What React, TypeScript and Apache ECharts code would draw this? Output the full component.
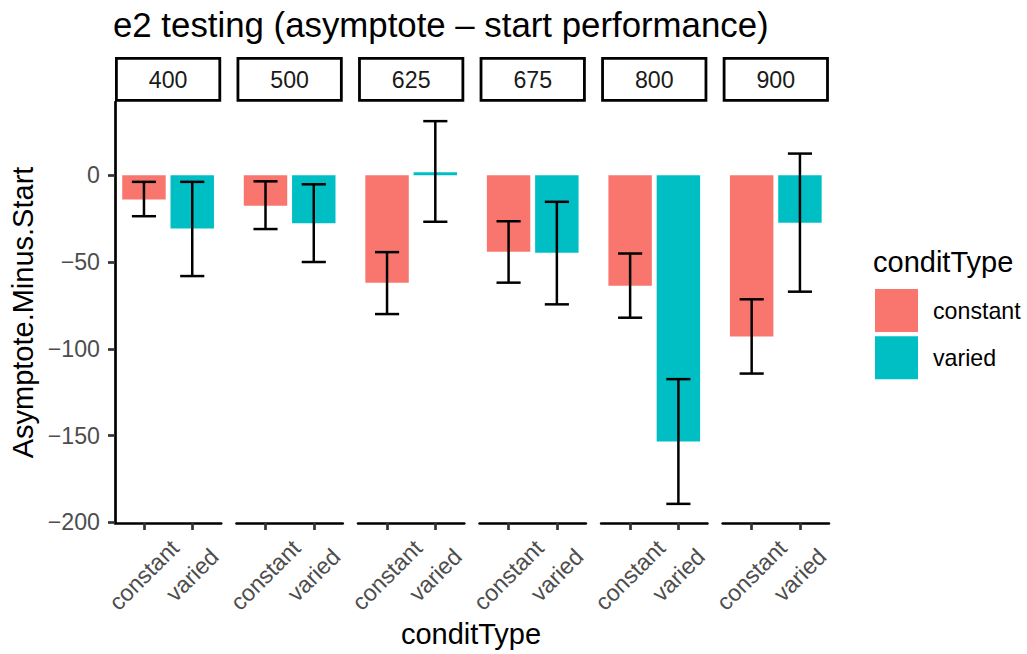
import React, { useEffect, useRef } from "react";
import * as echarts from "echarts";

const conditions = ["400", "500", "625", "675", "800", "900"];
const groups = ["constant", "varied"];
const constantMean = [-14.0, -17.5, -61.9, -44.1, -63.7, -93.0];
const variedMean = [-30.7, -27.6, 1.7, -44.7, -153.4, -27.4];
const constantLo = [-23.6, -31.0, -80.0, -61.9, -82.1, -114.3];
const constantHi = [-3.8, -3.5, -44.3, -26.5, -45.1, -71.5];
const variedLo = [-58.1, -50.0, -26.8, -74.4, -189.4, -67.1];
const variedHi = [-3.8, -5.2, 31.2, -15.3, -117.5, 12.5];
const yTicks = [-200, -150, -100, -50, 0];

const COLORS = ["#F8766D", "#00BFC4"];
const FONT = "'Liberation Sans', Arial, Helvetica, sans-serif";
const SMALL = 23.2;
const MED = 29;
const BIG = 34.8;

export default function App() {
  const ref = useRef<HTMLDivElement>(null);
  useEffect(() => {
    if (!ref.current) return;
    const chart = echarts.init(ref.current, null, { renderer: "svg" });

    const all = [
      ...constantMean, ...variedMean, ...constantLo, ...constantHi, ...variedLo, ...variedHi, 0,
    ];
    const dMin = Math.min(...all);
    const dMax = Math.max(...all);
    const span = dMax - dMin;
    const yMin = dMin - 0.05 * span;
    const yMax = dMax + 0.05 * span;

    const panelLeft = 115;
    const panelStep = 121.54;
    const panelW = 106.2;
    const panelTop = 102;
    const panelH = 421;

    const grids: any[] = [];
    const xAxes: any[] = [];
    const yAxes: any[] = [];
    const series: any[] = [];
    const graphics: any[] = [];

    const fmtY = (v: number) => (v < 0 ? "\u2212" + Math.abs(v) : String(v));

    conditions.forEach((c, i) => {
      const left = panelLeft + i * panelStep;
      grids.push({ left, top: panelTop, width: panelW, height: panelH });
      xAxes.push({
        type: "value",
        gridIndex: i,
        min: 0.4,
        max: 2.6,
        position: "bottom",
        splitLine: { show: false },
        axisLine: { show: true, onZero: false, lineStyle: { color: "#000", width: 2.7 } },
        axisTick: {
          show: true,
          length: 7,
          customValues: [1, 2],
          lineStyle: { color: "#333333", width: 2.7 },
        },
        axisLabel: {
          show: true,
          customValues: [1, 2],
          rotate: 45,
          align: "center",
          verticalAlign: "middle",
          margin: 52,
          fontSize: SMALL,
          color: "#4D4D4D",
          fontFamily: FONT,
          formatter: (v: number) => groups[Math.round(v) - 1] ?? "",
        },
      });
      yAxes.push({
        type: "value",
        gridIndex: i,
        min: yMin,
        max: yMax,
        show: i === 0,
        splitLine: { show: false },
        axisLine: { show: i === 0, onZero: false, lineStyle: { color: "#000", width: 2.7 } },
        axisTick: {
          show: i === 0,
          length: 7,
          customValues: yTicks,
          lineStyle: { color: "#333333", width: 2.7 },
        },
        axisLabel: {
          show: i === 0,
          customValues: yTicks,
          margin: 15,
          fontSize: SMALL,
          color: "#4D4D4D",
          fontFamily: FONT,
          formatter: fmtY,
        },
      });

      const means = [constantMean[i], variedMean[i]];
      groups.forEach((g, gi) => {
        series.push({
          type: "custom",
          name: g,
          xAxisIndex: i,
          yAxisIndex: i,
          color: COLORS[gi],
          encode: { x: 0, y: 1 },
          data: [[gi + 1, means[gi]]],
          renderItem: (params: any, api: any) => {
            const x = api.value(0);
            const v = api.value(1);
            const p0 = api.coord([x - 0.45, 0]);
            const p1 = api.coord([x + 0.45, v]);
            return {
              type: "rect",
              shape: {
                x: p0[0],
                y: Math.min(p0[1], p1[1]),
                width: p1[0] - p0[0],
                height: Math.abs(p1[1] - p0[1]),
              },
              style: { fill: COLORS[gi] },
            };
          },
        });
      });

      series.push({
        type: "custom",
        name: "errorbar",
        xAxisIndex: i,
        yAxisIndex: i,
        encode: { x: 0, y: [1, 2] },
        data: [
          [1, constantLo[i], constantHi[i]],
          [2, variedLo[i], variedHi[i]],
        ],
        z: 5,
        renderItem: (params: any, api: any) => {
          const x = api.value(0);
          const lo = api.coord([x, api.value(1)]);
          const hi = api.coord([x, api.value(2)]);
          const l = api.coord([x - 0.25, 0])[0];
          const r = api.coord([x + 0.25, 0])[0];
          const st = { stroke: "#000", lineWidth: 2.5 };
          return {
            type: "group",
            children: [
              { type: "line", shape: { x1: lo[0], y1: lo[1], x2: hi[0], y2: hi[1] }, style: st },
              { type: "line", shape: { x1: l, y1: lo[1], x2: r, y2: lo[1] }, style: st },
              { type: "line", shape: { x1: l, y1: hi[1], x2: r, y2: hi[1] }, style: st },
            ],
          };
        },
      });

      // strip
      graphics.push({
        type: "rect",
        shape: { x: left + 1.4, y: 58.4, width: panelW - 2.8, height: 42 },
        style: { fill: "#fff", stroke: "#000", lineWidth: 2.8 },
      });
      graphics.push({
        type: "text",
        x: left + panelW / 2,
        y: 79.5,
        style: {
          text: c,
          fontSize: SMALL,
          fill: "#1A1A1A",
          fontFamily: FONT,
          align: "center",
          verticalAlign: "middle",
        },
      });
    });

    graphics.push({
      type: "text",
      x: 23,
      y: 312.5,
      rotation: Math.PI / 2,
      style: {
        text: "Asymptote.Minus.Start",
        fontSize: MED,
        fill: "#000",
        fontFamily: FONT,
        align: "center",
        verticalAlign: "middle",
      },
    });
    graphics.push({
      type: "text",
      x: 471,
      y: 634,
      style: {
        text: "conditType",
        fontSize: MED,
        fill: "#000",
        fontFamily: FONT,
        align: "center",
        verticalAlign: "middle",
      },
    });
    graphics.push({
      type: "text",
      x: 873,
      y: 262,
      style: {
        text: "conditType",
        fontSize: MED,
        fill: "#000",
        fontFamily: FONT,
        align: "left",
        verticalAlign: "middle",
      },
    });
    graphics.push({
      type: "text",
      x: 113,
      y: 24,
      style: {
        text: "e2 testing (asymptote \u2013 start performance)",
        fontSize: BIG,
        fill: "#000",
        fontFamily: FONT,
        align: "left",
        verticalAlign: "middle",
      },
    });

    chart.setOption({
      animation: false,
      backgroundColor: "#fff",
      grid: grids,
      xAxis: xAxes,
      yAxis: yAxes,
      series,
      legend: {
        data: groups.map((g, gi) => ({ name: g, itemStyle: { color: COLORS[gi] } })),
        orient: "vertical",
        left: 875,
        top: 289,
        padding: 0,
        itemWidth: 43,
        itemHeight: 43,
        itemGap: 4.3,
        icon: "rect",
        selectedMode: false,
        textStyle: { fontSize: SMALL, color: "#000", fontFamily: FONT, padding: [0, 0, 0, 10] },
      },
      graphic: graphics,
    });

    return () => chart.dispose();
  }, []);

  return <div ref={ref} style={{ width: 1027, height: 654, position: "absolute", left: 0, top: 0 }} />;
}
